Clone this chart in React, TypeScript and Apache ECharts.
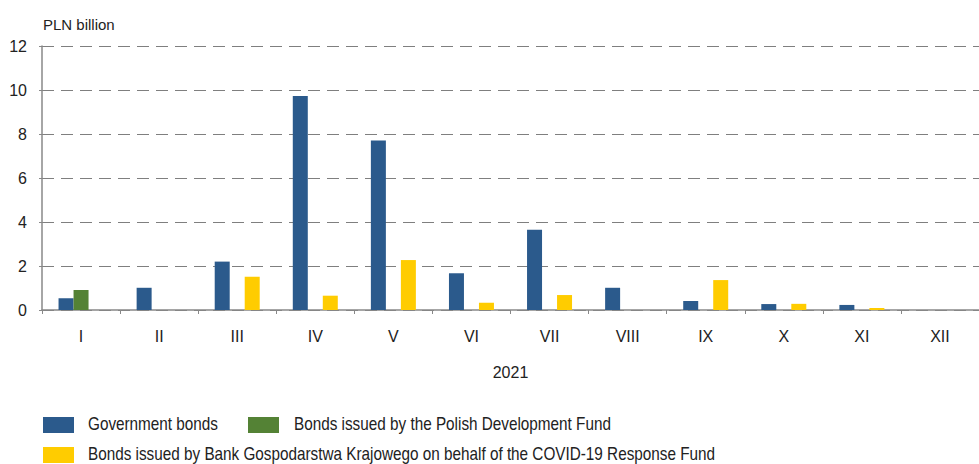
import React, { useEffect, useRef } from "react";
import * as echarts from "echarts";

const categories = ["I", "II", "III", "IV", "V", "VI", "VII", "VIII", "IX", "X", "XI", "XII"];
const governmentBonds = [0.53, 1.01, 2.2, 9.73, 7.71, 1.67, 3.65, 1.01, 0.41, 0.27, 0.23, null];
const pfrBonds = [0.91, null, null, null, null, null, null, null, null, null, null, null];
const bgkBonds = [null, null, 1.51, 0.65, 2.27, 0.33, 0.68, null, 1.36, 0.28, 0.09, null];
const seriesNames = [
  "Government bonds",
  "Bonds issued by the Polish Development Fund",
  "Bonds issued by Bank Gospodarstwa Krajowego on behalf of the COVID-19 Response Fund",
];
const seriesColors = ["#2B5A8C", "#548235", "#FFCC00"];
const yearLabel = "2021";
const unitLabel = "PLN billion";

const FONT = "'Liberation Sans', Arial, sans-serif";
const TXT = "#222222";

// legend layout: [x of swatch, y of swatch top, x of text]
const legendSlots = [
  [43, 417, 88],
  [248, 417, 294],
  [43, 447, 88],
];

export default function App() {
  const ref = useRef<HTMLDivElement>(null);
  useEffect(() => {
    if (!ref.current) return;
    const chart = echarts.init(ref.current, undefined, { renderer: "svg" });
    const legendGraphics: any[] = [];
    seriesNames.forEach((name, i) => {
      const [sx, sy, tx] = legendSlots[i];
      legendGraphics.push({
        type: "rect",
        shape: { x: sx, y: sy, width: 31, height: 16 },
        style: { fill: seriesColors[i] },
      });
      legendGraphics.push({
        type: "text",
        x: tx,
        y: sy + 7.5,
        scaleX: 0.85,
        style: {
          text: name,
          fontFamily: FONT,
          fontSize: 18,
          fill: TXT,
          verticalAlign: "middle",
          align: "left",
        },
      });
    });
    chart.setOption({
      animation: false,
      textStyle: { fontFamily: FONT },
      grid: { left: 42, right: -9, top: 46, bottom: 154, containLabel: false },
      xAxis: {
        type: "category",
        data: categories,
        name: yearLabel,
        nameLocation: "middle",
        nameGap: 54,
        nameTextStyle: { fontFamily: FONT, fontSize: 16, color: TXT },
        axisLine: { show: true, lineStyle: { color: "#888888", width: 1.5 } },
        axisTick: { show: true, length: 4, lineStyle: { color: "#888888" } },
        axisLabel: { fontFamily: FONT, fontSize: 16, color: TXT, margin: 18 },
      },
      yAxis: {
        type: "value",
        min: 0,
        max: 12,
        interval: 2,
        axisLine: { show: true, lineStyle: { color: "#888888", width: 1.5 } },
        axisTick: { show: true, length: 3, lineStyle: { color: "#888888" } },
        axisLabel: { fontFamily: FONT, fontSize: 16, color: TXT, margin: 15 },
        splitLine: { show: true, lineStyle: { color: "#7f7f7f", type: [12, 7], width: 1.2 } },
      },
      graphic: [
        {
          type: "text",
          left: 43,
          top: 17,
          style: { text: unitLabel, fontFamily: FONT, fontSize: 15, fill: TXT },
        },
        ...legendGraphics,
      ],
      series: [
        { name: seriesNames[0], type: "bar", data: governmentBonds, barWidth: 15, barGap: "0%", itemStyle: { color: seriesColors[0] } },
        { name: seriesNames[1], type: "bar", data: pfrBonds, barWidth: 15, barGap: "0%", itemStyle: { color: seriesColors[1] } },
        { name: seriesNames[2], type: "bar", data: bgkBonds, barWidth: 15, barGap: "0%", itemStyle: { color: seriesColors[2] } },
      ],
    });
    return () => chart.dispose();
  }, []);
  return <div ref={ref} style={{ width: 979, height: 464, position: "absolute", left: 0, top: 0 }} />;
}
